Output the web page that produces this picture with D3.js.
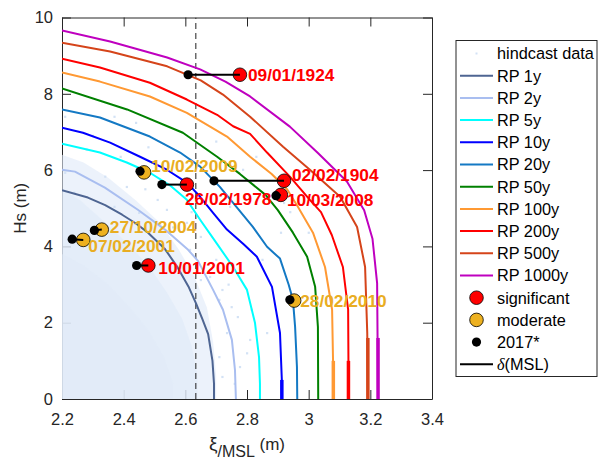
<!DOCTYPE html>
<html><head><meta charset="utf-8">
<script src="https://cdn.jsdelivr.net/npm/d3@7"></script>
<style>
body{margin:0;background:#fff}
svg{display:block;font-family:"Liberation Sans",Arial,Helvetica,sans-serif}
</style>
</head><body>
<svg id="c" width="598" height="461"></svg>
<script>
// ---------------- data ----------------
const xTicks = [2.2, 2.4, 2.6, 2.8, 3.0, 3.2, 3.4];
const yTicks = [0, 2, 4, 6, 8, 10];
const xDomain = [2.2, 3.4];
const yDomain = [0, 10];
const mslRef = 2.634; // dashed vertical line

// return-period contours [xi, Hs]
const rp1y   = [[2.2,5.47],[2.284,5.28],[2.34,5.08],[2.395,4.83],[2.44,4.6],[2.479,4.36],[2.534,3.93],[2.575,3.45],[2.61,2.95],[2.635,2.5],[2.655,2.1],[2.674,1.7],[2.688,1.0],[2.693,0.4],[2.693,0]];
const rp2y   = [[2.2,6.01],[2.242,5.96],[2.339,5.54],[2.446,4.96],[2.534,4.44],[2.609,3.91],[2.641,3.62],[2.69,2.86],[2.722,2.34],[2.751,1.55],[2.761,0.76],[2.764,0]];
const rp5y   = [[2.2,6.69],[2.323,6.46],[2.41,6.2],[2.485,5.93],[2.55,5.6],[2.605,5.22],[2.648,4.7],[2.70,4.1],[2.755,3.46],[2.8,2.86],[2.826,1.99],[2.839,1.1],[2.842,0.4],[2.842,0]];
const rp10y  = [[2.2,7.11],[2.268,6.98],[2.356,6.72],[2.453,6.35],[2.54,6.01],[2.605,5.67],[2.648,5.30],[2.69,4.88],[2.735,4.44],[2.79,4.05],[2.832,3.73],[2.881,2.94],[2.907,1.73],[2.913,0.5],[2.913,0]];
const rp20y  = [[2.2,7.59],[2.323,7.38],[2.485,6.88],[2.583,6.46],[2.648,6.09],[2.712,5.56],[2.755,5.14],[2.819,4.51],[2.865,3.99],[2.907,3.68],[2.935,3.0],[2.949,2.6],[2.956,1.89],[2.962,0.84],[2.963,0]];
const rp50y  = [[2.2,8.14],[2.411,7.59],[2.592,6.98],[2.703,6.35],[2.777,5.9],[2.86,5.35],[2.9,4.95],[2.949,4.36],[2.995,3.73],[3.021,2.94],[3.03,1.89],[3.031,0]];
const rp100y = [[2.2,8.56],[2.323,8.32],[2.485,7.93],[2.605,7.5],[2.735,6.88],[2.81,6.35],[2.88,5.9],[2.93,5.5],[2.965,5.04],[3.014,4.36],[3.053,3.46],[3.076,2.34],[3.079,1.02],[3.08,0]];
const rp200y = [[2.2,8.92],[2.323,8.69],[2.485,8.29],[2.605,7.85],[2.703,7.45],[2.755,7.15],[2.81,6.95],[2.865,6.46],[2.939,5.83],[3.004,5.22],[3.04,4.9],[3.075,4.3],[3.111,3.46],[3.128,2.34],[3.129,1.02],[3.129,0]];
const rp500y = [[2.2,9.34],[2.356,9.11],[2.541,8.72],[2.65,8.35],[2.722,7.98],[2.81,7.40],[2.917,6.61],[3.004,6.01],[3.102,5.30],[3.157,4.51],[3.183,3.46],[3.19,1.73],[3.192,0]];
const rp1000y= [[2.2,9.66],[2.356,9.37],[2.541,8.95],[2.648,8.64],[2.73,8.32],[2.81,7.93],[2.939,7.14],[3.03,6.45],[3.124,5.7],[3.18,4.95],[3.207,4.2],[3.222,3.04],[3.225,0]];
const rpNames = ["RP 1y","RP 2y","RP 5y","RP 10y","RP 20y","RP 50y","RP 100y","RP 200y","RP 500y","RP 1000y"];

// hindcast data cloud (estimated envelopes of outer / mid / dense core regions, plus sparse points)
const hindcastOuter = [[2.2,0],[2.2,6.4],[2.27,6.2],[2.35,5.8],[2.44,5.2],[2.52,4.6],[2.58,3.9],[2.63,3.2],[2.67,2.4],[2.69,1.5],[2.70,0.6],[2.70,0]];
const hindcastMid   = [[2.2,0],[2.2,5.5],[2.26,5.2],[2.33,4.7],[2.41,4.1],[2.48,3.5],[2.54,2.8],[2.59,2.1],[2.62,1.4],[2.64,0.6],[2.64,0]];
const hindcastCore  = [[2.2,0],[2.2,3.8],[2.27,3.5],[2.35,3.0],[2.42,2.4],[2.48,1.8],[2.53,1.1],[2.56,0.4],[2.56,0]];
const hindcastSparse = [[2.21,7.4],[2.37,7.4],[2.44,7.24],[2.28,6.54],[2.39,6.35],[2.21,5.93],[2.34,5.83],[2.41,5.56],[2.24,5.41],[2.51,5.22],[2.37,5.04],[2.45,4.88],[2.54,4.96],[2.605,4.62],[2.65,4.25],[2.70,3.65],[2.65,3.12],[2.72,2.86],[2.615,3.91],[2.85,3.65],[2.91,4.36],[2.71,2.6],[2.75,2.41],[2.77,2.15],[2.735,1.73],[2.81,1.55],[2.71,1.10],[2.777,0.84],[2.72,0.58],[2.815,2.34],[2.865,1.73],[2.70,6.75],[2.787,6.01],[2.83,6.35],[2.92,5.14],[2.745,5.04],[2.94,4.9],[3.0,4.36],[2.58,5.6],[2.3,6.9],[2.48,6.6],[2.56,4.5],[2.68,3.2],[2.74,3.0],[2.8,1.2],[2.76,0.4],[2.62,4.9],[2.47,5.5]];

// storm events
const eventDates = ["09/01/1924","02/02/1904","10/03/2008","26/02/1978","10/02/2009","27/10/2004","07/02/2001","10/01/2001","28/02/2010"];
const eventClass = ["significant","significant","significant","significant","moderate","moderate","moderate","significant","moderate"];
const eventXi    = [2.777, 2.920, 2.910, 2.605, 2.466, 2.329, 2.269, 2.480, 2.953];
const eventHs    = [8.50, 5.72, 5.35, 5.62, 5.94, 4.44, 4.17, 3.50, 2.58];
const event2017Xi= [2.609, 2.693, 2.894, 2.524, 2.453, 2.305, 2.233, 2.442, 2.939];
const event2017Hs= [8.50, 5.72, 5.33, 5.62, 5.97, 4.42, 4.19, 3.50, 2.60];

// ---------------- styles / layout ----------------
const rpColors = ["#4e6592","#a9bef0","#00ffff","#0000ff","#1479c4","#008000","#ff9933","#ff0000","#d5441a","#bf00bf"];
const rpTailHs = [0, 0, 0, 0.5, 0, 0, 1.0, 1.0, 1.6, 1.6]; // extent of the thicker bottom segment (style)
const classFill = {significant:"#ff0000", moderate:"#edb120"};
const classText = {significant:"#ff0000", moderate:"#e9ad22"};
const labelOffsets = [[8,0],[8,-6],[6,5],[-2,14],[7,-7],[8,-3],[5,6],[10,2],[6,0]];
const axisColor = "#262626";

const M = {left:62, right:432, top:17.5, bottom:399};
const svg = d3.select("#c");
const x = d3.scaleLinear(xDomain, [M.left, M.right]);
const y = d3.scaleLinear(yDomain, [M.bottom, M.top]);

svg.append("defs").append("clipPath").attr("id","clip")
  .append("rect").attr("x",M.left).attr("y",M.top).attr("width",M.right-M.left).attr("height",M.bottom-M.top);

// axes
function styleAxis(g){
  g.selectAll("path.domain").attr("stroke",axisColor).attr("stroke-width",1);
  g.selectAll(".tick line").attr("stroke",axisColor).attr("stroke-width",1);
  g.selectAll(".tick text").attr("fill",axisColor).attr("font-size",16.5)
   .attr("font-family",'"Liberation Sans",Arial,Helvetica,sans-serif');
}
svg.append("g").attr("transform",`translate(0,${M.bottom})`)
  .call(d3.axisBottom(x).tickValues(xTicks).tickSize(-9).tickSizeOuter(0).tickPadding(14).tickFormat(d=>String(+d.toFixed(1))))
  .call(styleAxis);
svg.append("g").attr("transform",`translate(0,${M.top})`)
  .call(d3.axisTop(x).tickValues(xTicks).tickSize(-9).tickSizeOuter(0).tickFormat(""))
  .call(styleAxis);
svg.append("g").attr("transform",`translate(${M.left},0)`)
  .call(d3.axisLeft(y).tickValues(yTicks).tickSize(-9).tickSizeOuter(0).tickPadding(9).tickFormat(d=>String(d)))
  .call(styleAxis);
svg.append("g").attr("transform",`translate(${M.right},0)`)
  .call(d3.axisRight(y).tickValues(yTicks).tickSize(-9).tickSizeOuter(0).tickFormat(""))
  .call(styleAxis);

const plot = svg.append("g").attr("clip-path","url(#clip)");

// hindcast cloud (drawn over the axis, as in the original)
const poly = d3.line().x(d=>x(d[0])).y(d=>y(d[1]));
plot.append("path").attr("d", poly(hindcastOuter)+"Z").attr("fill","#dfeaf8").attr("fill-opacity",0.6);
plot.append("path").attr("d", poly(hindcastMid)+"Z").attr("fill","#dfeaf8").attr("fill-opacity",0.55);
plot.append("path").attr("d", poly(hindcastCore)+"Z").attr("fill","#dfeaf8").attr("fill-opacity",0.5);
plot.append("g").selectAll("rect").data(hindcastSparse).join("rect")
  .attr("x",d=>x(d[0])-1).attr("y",d=>y(d[1])-1).attr("width",2.2).attr("height",2.2)
  .attr("fill","#d3e2f5");

// dashed reference line
plot.append("line").attr("x1",x(mslRef)).attr("x2",x(mslRef)).attr("y1",y(yDomain[0])).attr("y2",y(yDomain[1]))
  .attr("stroke","#333").attr("stroke-width",1.1).attr("stroke-dasharray","6,4");

// contours
const curves = [rp1y,rp2y,rp5y,rp10y,rp20y,rp50y,rp100y,rp200y,rp500y,rp1000y];
const line = d3.line().x(d=>x(d[0])).y(d=>y(d[1]));
plot.append("g").selectAll("path").data(curves).join("path")
  .attr("d", line).attr("fill","none").attr("stroke",(d,i)=>rpColors[i]).attr("stroke-width",2)
  .attr("stroke-linejoin","round");
plot.append("g").selectAll("line").data(curves.map((c,i)=>({c,i})).filter(d=>rpTailHs[d.i]>0)).join("line")
  .attr("x1",d=>x(d.c[d.c.length-1][0])).attr("x2",d=>x(d.c[d.c.length-1][0]))
  .attr("y1",d=>y(0)).attr("y2",d=>y(rpTailHs[d.i]))
  .attr("stroke",d=>rpColors[d.i]).attr("stroke-width",3.5);

// events
const ev = eventDates.map((d,i)=>({date:d, cls:eventClass[i], xi:eventXi[i], hs:eventHs[i], xi0:event2017Xi[i], hs0:event2017Hs[i], off:labelOffsets[i]}));
const eg = svg.append("g");
eg.selectAll("circle.ev").data(ev).join("circle").attr("class","ev")
  .attr("cx",d=>x(d.xi)).attr("cy",d=>y(d.hs)).attr("r",6.8)
  .attr("fill",d=>classFill[d.cls]).attr("stroke","#000").attr("stroke-width",0.8);
eg.selectAll("line").data(ev).join("line")
  .attr("x1",d=>x(d.xi0)).attr("y1",d=>y(d.hs0)).attr("x2",d=>x(d.xi)).attr("y2",d=>y(d.hs))
  .attr("stroke","#000").attr("stroke-width",2);
eg.selectAll("circle.p17").data(ev).join("circle").attr("class","p17")
  .attr("cx",d=>x(d.xi0)).attr("cy",d=>y(d.hs0)).attr("r",4.6).attr("fill","#000");
eg.selectAll("text").data(ev).join("text")
  .attr("x",d=>x(d.xi)+d.off[0]).attr("y",d=>y(d.hs)+d.off[1]).attr("dy","0.36em")
  .attr("font-size",17.3).attr("font-weight","bold").attr("fill",d=>classText[d.cls])
  .text(d=>d.date);

// axis labels
const xl = svg.append("text").attr("x",(M.left+M.right)/2).attr("y",450).attr("text-anchor","middle")
  .attr("font-size",17).attr("fill",axisColor);
xl.append("tspan").text("ξ").attr("font-size",19);
xl.append("tspan").text("/MSL").attr("dy",7).attr("font-size",16);
xl.append("tspan").text(" (m)").attr("dy",-7);
svg.append("text").attr("transform",`translate(26,${(M.top+M.bottom)/2}) rotate(-90)`)
  .attr("text-anchor","middle").attr("font-size",17).attr("fill",axisColor).text("Hs (m)");

// legend
const L = {x:456, y:40.5, w:141, h:336, row0:53.5, dy:22.2, sx0:460, sx1:493, tx:497};
const lg = svg.append("g");
lg.append("rect").attr("x",L.x).attr("y",L.y).attr("width",L.w).attr("height",L.h)
  .attr("fill","#fff").attr("stroke",axisColor).attr("stroke-width",1);
const entries = [{t:"hindcast data", k:"dot"}]
  .concat(rpNames.map((n,i)=>({t:n,k:"line",c:rpColors[i]})))
  .concat([{t:"significant",k:"circ",c:classFill.significant},{t:"moderate",k:"circ",c:classFill.moderate},{t:"2017*",k:"blk"},{t:"δ(MSL)",k:"msl"}]);
entries.forEach((e,i)=>{
  const yy = L.row0 + i*L.dy, cx=(L.sx0+L.sx1)/2;
  if(e.k==="dot") lg.append("rect").attr("x",cx-1).attr("y",yy-1).attr("width",2).attr("height",2).attr("fill","#d3e2f5");
  if(e.k==="line") lg.append("line").attr("x1",L.sx0).attr("x2",L.sx1).attr("y1",yy).attr("y2",yy).attr("stroke",e.c).attr("stroke-width",2);
  if(e.k==="circ") lg.append("circle").attr("cx",cx).attr("cy",yy).attr("r",6.8).attr("fill",e.c).attr("stroke","#000").attr("stroke-width",0.8);
  if(e.k==="blk") lg.append("circle").attr("cx",cx).attr("cy",yy).attr("r",4.6).attr("fill","#000");
  if(e.k==="msl") lg.append("line").attr("x1",L.sx0).attr("x2",L.sx1).attr("y1",yy).attr("y2",yy).attr("stroke","#000").attr("stroke-width",2);
  const t = lg.append("text").attr("x",L.tx).attr("y",yy).attr("dy","0.36em").attr("font-size",16.3).attr("fill","#000");
  if(e.k==="msl"){
    t.append("tspan").text("δ").attr("font-style","italic").attr("font-family",'"Liberation Serif","DejaVu Serif",serif');
    t.append("tspan").text("(MSL)");
  } else t.text(e.t);
});
</script>
</body></html>
